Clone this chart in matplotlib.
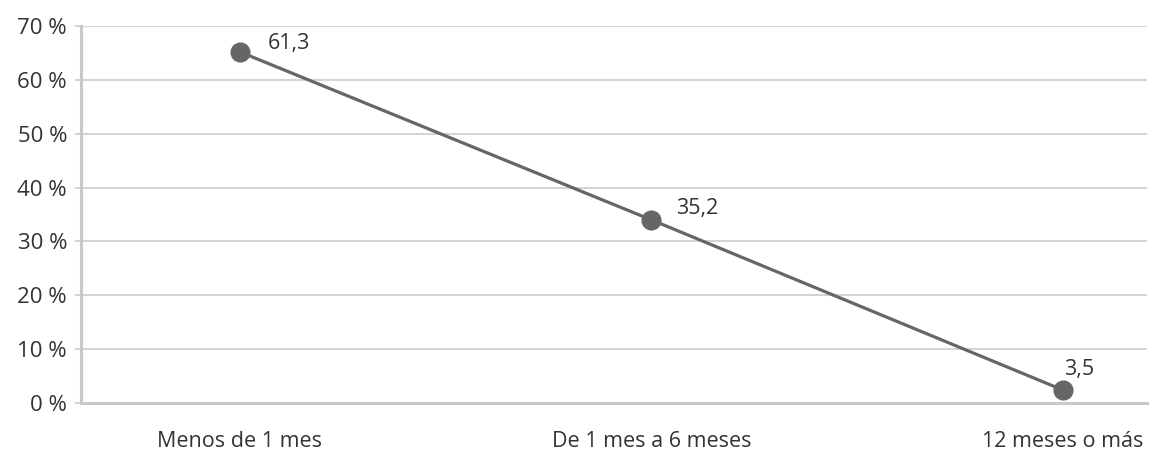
import matplotlib
matplotlib.use('Agg')
import matplotlib.pyplot as plt

categories = ['Menos de 1 mes', 'De 1 mes a 6 meses', '12 meses o más']
# positions as drawn in the picture, and the printed labels
values = [65.2, 34.0, 2.4]
value_labels = ['61,3', '35,2', '3,5']
yticks = [0, 10, 20, 30, 40, 50, 60, 70]
ytick_labels = ['0 %', '10 %', '20 %', '30 %', '40 %', '50 %', '60 %', '70 %']

plt.rcParams['font.family'] = ['Open Sans', 'DejaVu Sans']

fig = plt.figure(figsize=(11.5, 4.54), dpi=100)
ax = fig.add_axes([0.0704, 0.1123, 0.9270, 0.8304])

x = list(range(len(categories)))
ax.plot(x, values, color='#666666', linewidth=2.3, marker='o',
        markersize=13.5, zorder=3, solid_capstyle='round')

offsets = [(20, 6), (18, 8), (1, 7)]
vas = ['center', 'center', 'bottom']
for xi, v, lab, off, va in zip(x, values, value_labels, offsets, vas):
    ax.annotate(lab, (xi, v), xytext=off, textcoords='offset points',
                ha='left', va=va, fontsize=15.5, color='#333333')

ax.set_xlim(-0.386, 2.204)
ax.set_ylim(0, 70)
ax.set_yticks(yticks)
ax.set_yticklabels(ytick_labels)
ax.set_xticks(x)
ax.set_xticklabels(categories)
ax.grid(axis='y', color='#cccccc', linewidth=1.2)
ax.set_axisbelow(True)

for s in ['top', 'right']:
    ax.spines[s].set_visible(False)
for s in ['left', 'bottom']:
    ax.spines[s].set_color('#c8c8c8')
    ax.spines[s].set_linewidth(2.2)

ax.tick_params(axis='y', length=4, width=1.2, color='#cccccc',
               labelsize=16, labelcolor='#333333', pad=6)
ax.tick_params(axis='x', length=0, labelsize=15.5, labelcolor='#333333', pad=20)

fig.savefig('out.png', dpi=100)
